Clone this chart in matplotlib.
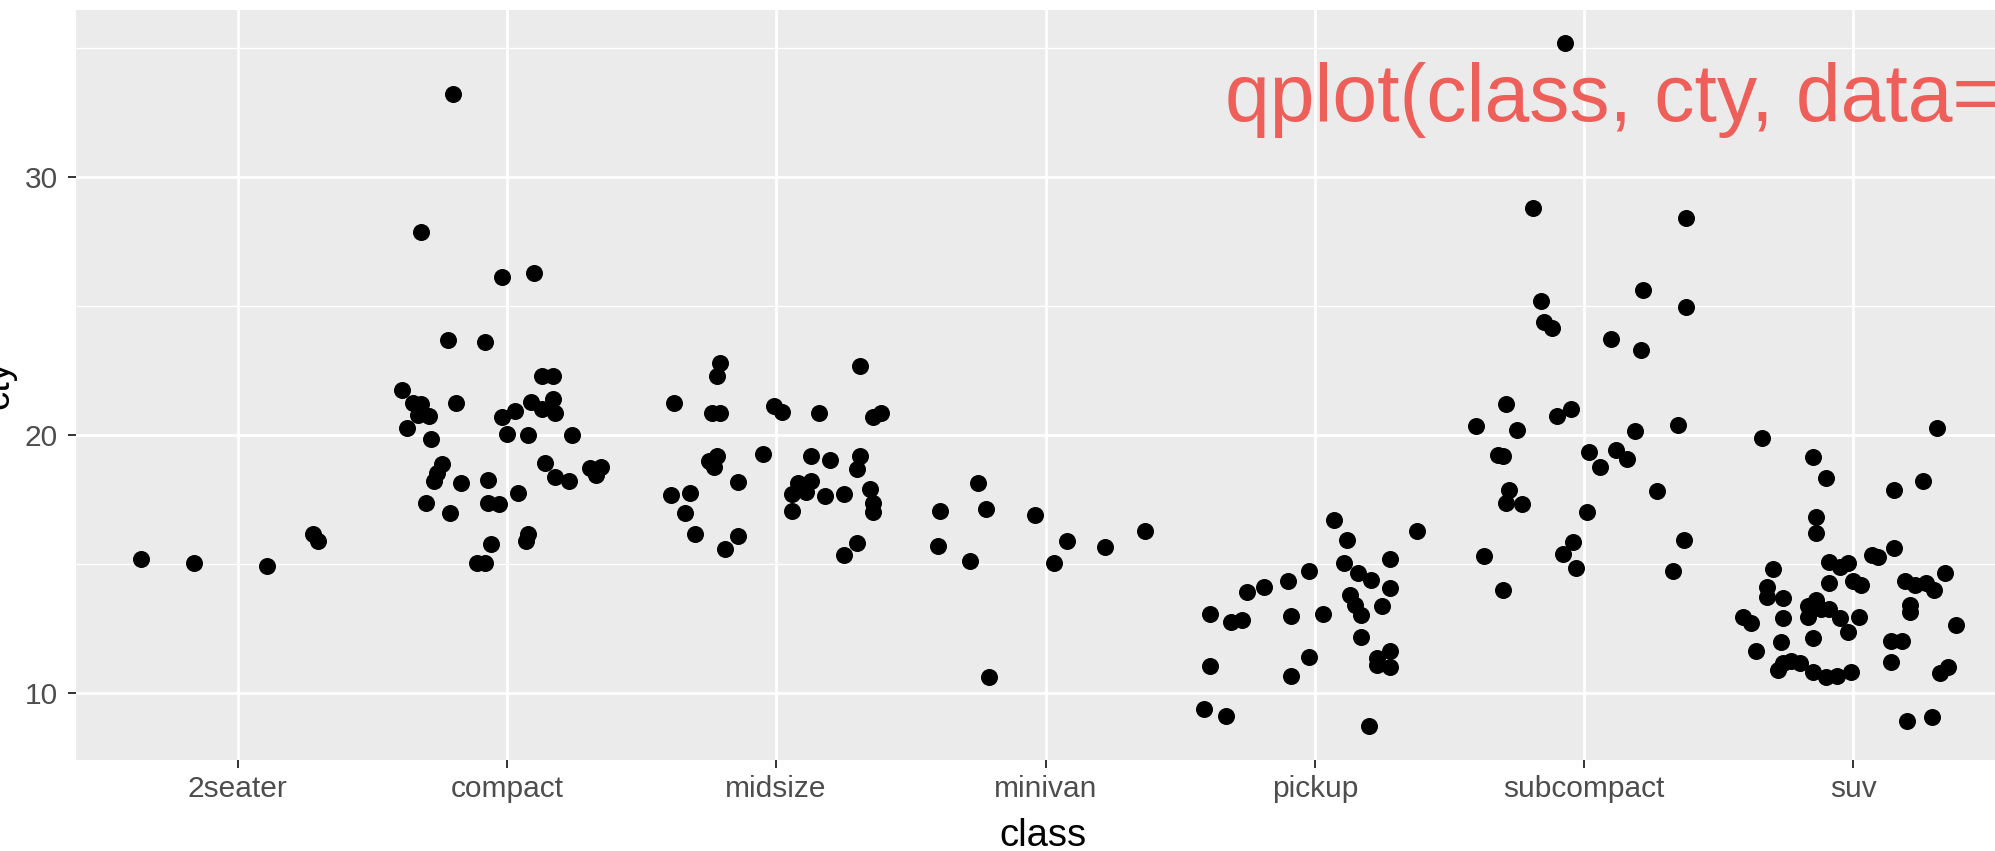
import matplotlib
matplotlib.use("Agg")
import matplotlib.pyplot as plt
import numpy as np

plt.rcParams["font.family"] = ["Liberation Sans", "DejaVu Sans"]

classes = ["2seater", "compact", "midsize", "minivan", "pickup", "subcompact", "suv"]

# jittered horizontal offset from each class position, and jittered cty
seater_dx = [-0.36, -0.16, 0.11, 0.28, 0.30]
seater_cty = [15.19, 15.03, 14.93, 16.15, 15.89]

compact_dx = [-0.20, -0.32, -0.02, 0.10, -0.22, -0.08, 0.13, 0.17, -0.39, -0.35,
              -0.32, -0.33, -0.29, -0.37, -0.28, -0.19, -0.02, 0.03, 0.09, 0.13,
              0.17, 0.18, 0.00, 0.08, 0.24, -0.24, -0.26, -0.27, -0.17, -0.07,
              0.14, 0.18, 0.23, 0.31, 0.35, 0.33, -0.30, -0.21, -0.07, -0.03,
              0.04, -0.06, 0.08, 0.07, -0.11, -0.08]
compact_cty = [33.20, 27.86, 26.11, 26.27, 23.68, 23.62, 22.29, 22.29, 21.74, 21.25,
               21.20, 20.78, 20.74, 20.26, 19.85, 21.23, 20.71, 20.94, 21.29, 21.01,
               21.41, 20.84, 20.03, 20.01, 20.00, 18.88, 18.54, 18.22, 18.15, 18.26,
               18.93, 18.36, 18.20, 18.71, 18.77, 18.45, 17.35, 16.96, 17.38, 17.33,
               17.74, 15.77, 16.16, 15.89, 15.05, 15.05]

midsize_dx = [-0.21, -0.22, -0.38, -0.24, -0.21, -0.01, 0.02, 0.16, 0.31, 0.36,
              0.39, -0.22, -0.25, -0.23, -0.05, -0.14, -0.39, -0.32, -0.34, -0.30,
              -0.19, -0.14, 0.13, 0.20, 0.31, 0.30, 0.08, 0.13, 0.06, 0.11,
              0.18, 0.25, 0.35, 0.36, 0.36, 0.06, 0.30, 0.25, 0.09, -0.24]
midsize_cty = [22.78, 22.30, 21.25, 20.84, 20.84, 21.12, 20.90, 20.84, 22.67, 20.68,
               20.84, 19.19, 18.97, 18.77, 19.26, 18.19, 17.67, 17.74, 16.99, 16.15,
               15.58, 16.10, 19.19, 19.03, 19.19, 18.67, 18.13, 18.23, 17.71, 17.77,
               17.65, 17.71, 17.89, 17.35, 17.03, 17.05, 15.80, 15.35, 18.00, 18.90]

minivan_dx = [-0.25, -0.39, -0.22, -0.04, -0.40, -0.28, 0.08, 0.03, 0.22, 0.37, -0.21]
minivan_cty = [18.13, 17.07, 17.12, 16.90, 15.71, 15.13, 15.90, 15.03, 15.65, 16.28, 10.61]

pickup_dx = [0.07, 0.12, 0.38, 0.28, 0.11, 0.16, 0.21, 0.28, -0.02, -0.10,
             -0.19, -0.25, -0.39, -0.31, -0.27, -0.09, 0.03, 0.13, 0.15, 0.17,
             0.25, 0.17, 0.23, 0.23, 0.28, 0.28, -0.39, -0.09, -0.02, -0.41,
             -0.33, 0.20]
pickup_cty = [16.71, 15.91, 16.29, 15.19, 15.05, 14.64, 14.38, 14.06, 14.74, 14.35,
              14.10, 13.93, 13.06, 12.73, 12.83, 12.99, 13.06, 13.80, 13.41, 13.02,
              13.35, 12.18, 11.35, 11.09, 11.63, 10.99, 11.05, 10.67, 11.38, 9.38,
              9.11, 8.70]

subcompact_dx = [-0.07, -0.19, 0.38, 0.22, 0.38, -0.16, -0.15, -0.12, 0.10, 0.21,
                 -0.29, -0.05, -0.10, -0.40, -0.25, 0.19, 0.35, -0.32, -0.30, 0.02,
                 0.06, 0.12, 0.16, -0.28, -0.29, -0.23, 0.27, 0.01, -0.04, -0.08,
                 -0.03, -0.37, -0.30, 0.37, 0.33]
subcompact_cty = [35.19, 28.79, 28.40, 25.63, 24.96, 25.18, 24.37, 24.15, 23.73, 23.30,
                  21.18, 20.99, 20.73, 20.36, 20.19, 20.14, 20.39, 19.22, 19.17, 19.32,
                  18.76, 19.40, 19.06, 17.87, 17.37, 17.32, 17.81, 17.00, 15.84, 15.39,
                  14.83, 15.32, 13.99, 15.94, 14.73]

suv_dx = [0.31, -0.34, -0.15, -0.10, 0.15, 0.26, -0.14, -0.14, 0.15, 0.07,
          0.09, -0.09, -0.05, -0.02, -0.30, 0.34, -0.09, 0.00, 0.03, 0.19,
          0.23, 0.27, 0.30, -0.32, -0.32, -0.26, -0.14, -0.17, -0.12, -0.09,
          -0.17, -0.05, 0.02, 0.21, 0.21, -0.41, -0.38, -0.26, -0.02, 0.38,
          -0.15, -0.27, 0.14, 0.18, -0.36, 0.14, -0.28, -0.26, -0.23, -0.20,
          -0.15, -0.10, -0.06, -0.01, 0.32, 0.35, 0.20, 0.29]
suv_cty = [20.26, 19.87, 19.13, 18.32, 17.87, 18.22, 16.83, 16.21, 15.63, 15.35,
           15.26, 15.09, 14.90, 15.05, 14.79, 14.64, 14.25, 14.34, 14.19, 14.35,
           14.19, 14.25, 13.99, 14.12, 13.73, 13.69, 13.60, 13.37, 13.24, 13.24,
           12.96, 12.89, 12.96, 13.41, 13.15, 12.96, 12.70, 12.89, 12.38, 12.63,
           12.12, 11.99, 12.03, 12.03, 11.64, 11.21, 10.89, 11.15, 11.25, 11.17,
           10.83, 10.61, 10.66, 10.80, 10.79, 11.02, 8.91, 9.06]

offsets = [seater_dx, compact_dx, midsize_dx, minivan_dx, pickup_dx, subcompact_dx, suv_dx]
cty = [seater_cty, compact_cty, midsize_cty, minivan_cty, pickup_cty, subcompact_cty, suv_cty]

W, H = 1995, 851
fig = plt.figure(figsize=(W / 100, H / 100), dpi=100)
# panel runs a little past the right edge of the canvas
ax = fig.add_axes([76 / W, (H - 760) / H, (2015 - 76) / W, (760 - 10) / H])
ax.set_facecolor("#EBEBEB")
for s in ax.spines.values():
    s.set_visible(False)

pos = np.arange(len(classes))
for i, (dx, y) in enumerate(zip(offsets, cty)):
    ax.scatter(pos[i] + np.array(dx), y, s=150, color="black", linewidths=0, zorder=3)

ax.set_xlim(-0.6, len(classes) - 0.4)
ax.set_ylim(7.4, 36.47)

ax.set_xticks(pos)
ax.set_xticklabels(classes)
ax.set_yticks([10, 20, 30])
ax.set_yticks([15, 25, 35], minor=True)
ax.grid(which="major", color="white", linewidth=2.0, zorder=0)
ax.grid(which="minor", axis="y", color="white", linewidth=1.0, zorder=0)
ax.set_axisbelow(True)
ax.tick_params(which="major", length=6, width=1.4, color="#333333",
               labelsize=21.5, labelcolor="#4D4D4D", pad=5)
ax.tick_params(axis="y", which="major", pad=7)
ax.tick_params(which="minor", length=0)

fig.text(1043 / W, 1 - 836 / H, "class",
         fontsize=27.5, ha="center", va="center", color="black")
fig.text(16 / W, 1 - 385 / H, "cty", fontsize=27.5, rotation=90,
         ha="right", va="center", color="black")

ax.text(3.665, 32.17, 'qplot(class, cty, data=mpg, geom="jitter")',
        fontsize=58, color="#EE5F5A", ha="left", va="baseline", zorder=4)

fig.savefig("out.png", dpi=100)
